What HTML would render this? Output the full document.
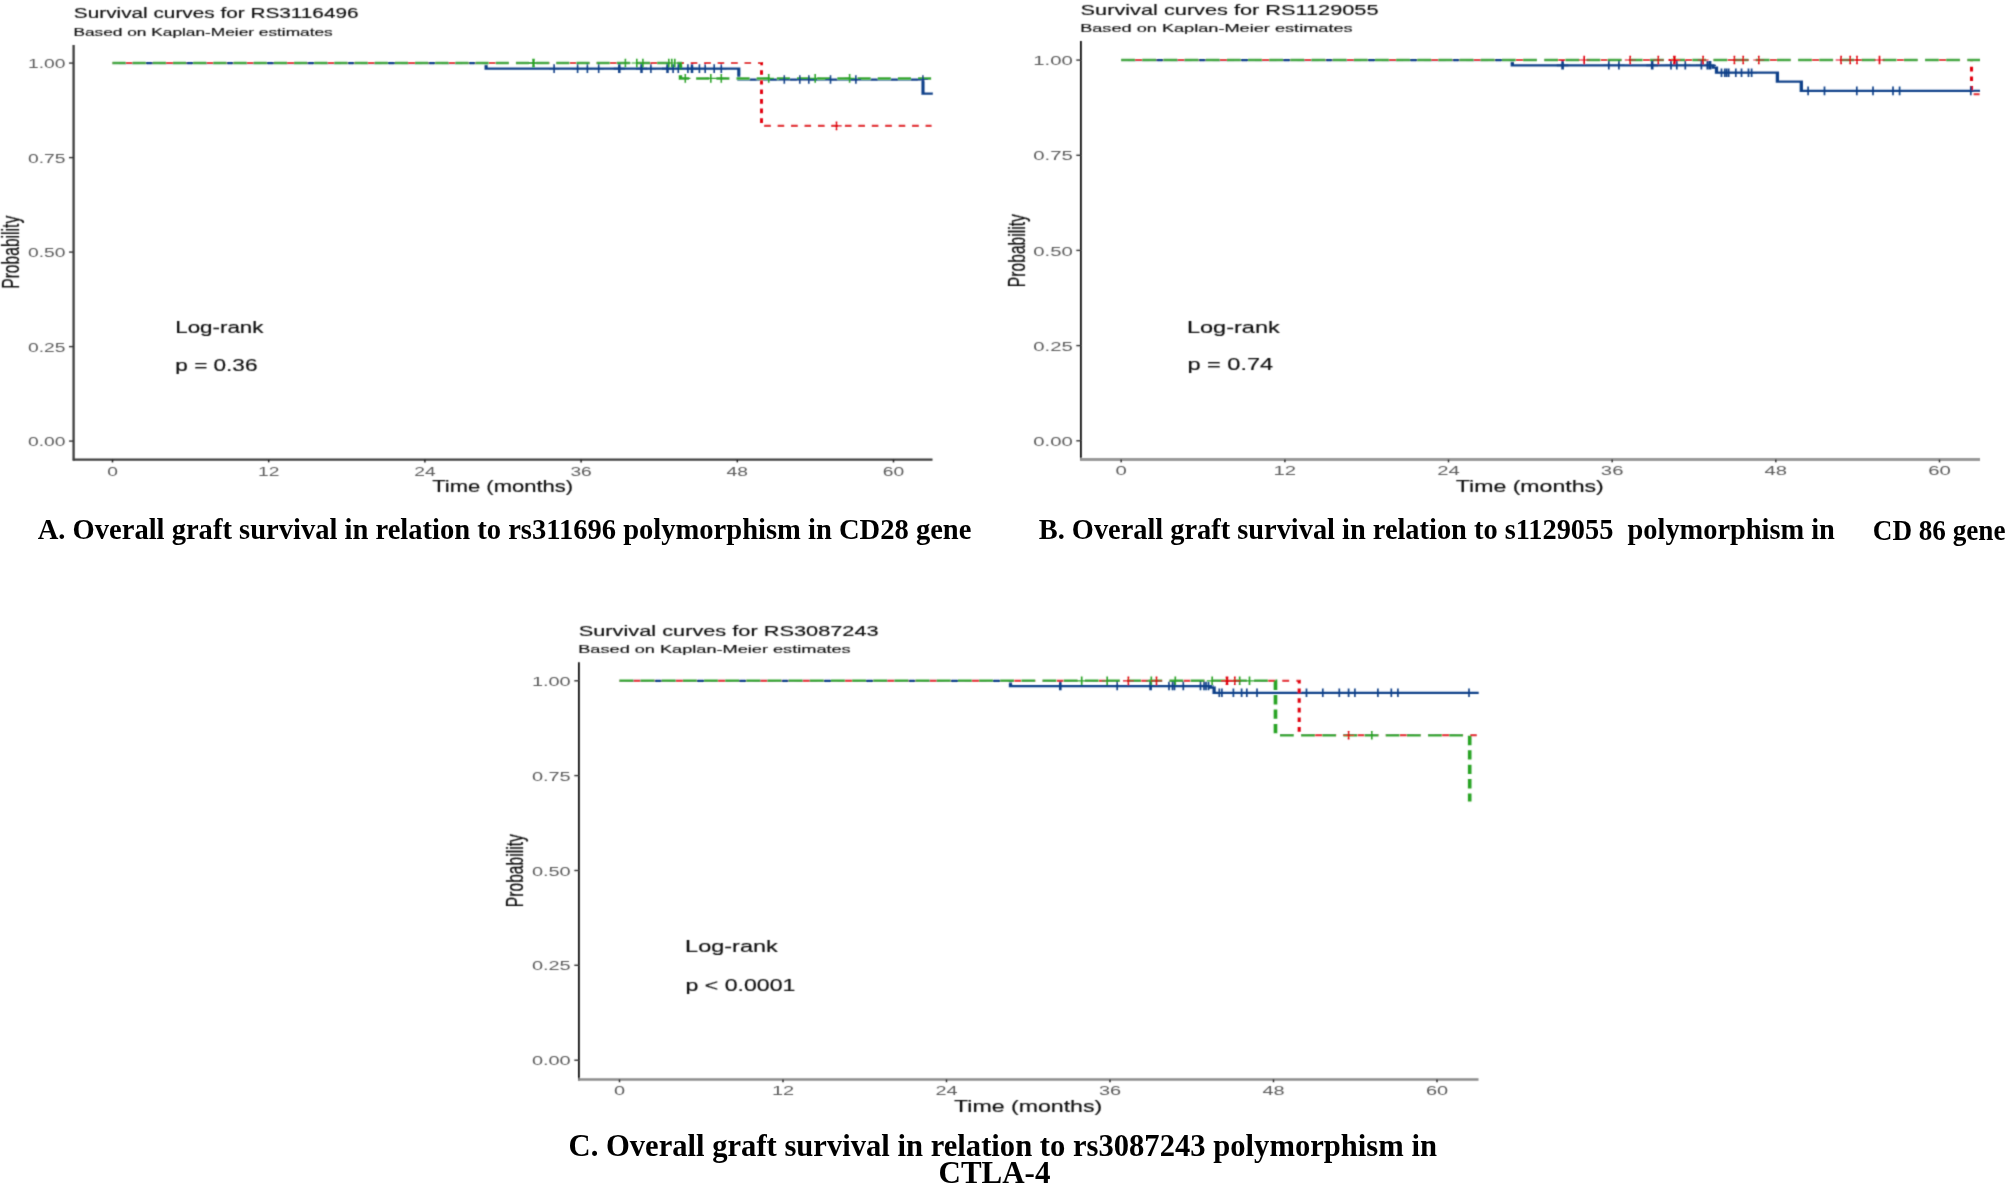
<!DOCTYPE html>
<html><head><meta charset="utf-8"><title>Graft survival curves</title>
<style>html,body{margin:0;padding:0;background:#fff}svg{display:block}.s{font-family:"Liberation Sans",sans-serif;stroke-width:.15px}.b{font-family:"Liberation Serif",serif;font-weight:bold;white-space:pre}</style></head><body>
<svg width="2007" height="1185" viewBox="0 0 2007 1185">
<defs><filter id="bl" x="-2%" y="-2%" width="104%" height="104%"><feConvolveMatrix order="3" kernelMatrix="1 4 1 4 16 4 1 4 1" divisor="36" edgeMode="none" preserveAlpha="false"/></filter></defs>
<rect width="2007" height="1185" fill="#fff"/>
<g id="plots" filter="url(#bl)">
<text class="s" xml:space="preserve" transform="translate(73.87,18.00) scale(1.4325,1)" font-size="14.5" fill="#111" stroke="#111" stroke-width="0.02">Survival curves for RS3116496</text>
<text class="s" xml:space="preserve" transform="translate(73.42,35.70) scale(1.4789,1)" font-size="11.7" fill="#111" stroke="#111" stroke-width="0.02">Based on Kaplan-Meier estimates</text>
<text class="s" xml:space="preserve" transform="translate(1080.62,14.70) scale(1.4988,1)" font-size="14.5" fill="#111" stroke="#111" stroke-width="0.02">Survival curves for RS1129055</text>
<text class="s" xml:space="preserve" transform="translate(1080.15,32.40) scale(1.5541,1)" font-size="11.7" fill="#111" stroke="#111" stroke-width="0.02">Based on Kaplan-Meier estimates</text>
<text class="s" xml:space="preserve" transform="translate(578.72,635.60) scale(1.5018,1)" font-size="14.5" fill="#111" stroke="#111" stroke-width="0.02">Survival curves for RS3087243</text>
<text class="s" xml:space="preserve" transform="translate(578.25,653.40) scale(1.5536,1)" font-size="11.7" fill="#111" stroke="#111" stroke-width="0.02">Based on Kaplan-Meier estimates</text>
<text class="s" xml:space="preserve" transform="translate(175.21,332.90) scale(1.4338,1)" font-size="15.6" fill="#111" stroke="#111" stroke-width="0.04">Log-rank</text>
<text class="s" xml:space="preserve" transform="translate(175.35,371.20) scale(1.4465,1)" font-size="15.6" fill="#111" stroke="#111" stroke-width="0.04">p = 0.36</text>
<text class="s" xml:space="preserve" transform="translate(1186.92,332.70) scale(1.5083,1)" font-size="15.6" fill="#111" stroke="#111" stroke-width="0.04">Log-rank</text>
<text class="s" xml:space="preserve" transform="translate(1187.39,369.80) scale(1.5107,1)" font-size="15.6" fill="#111" stroke="#111" stroke-width="0.04">p = 0.74</text>
<text class="s" xml:space="preserve" transform="translate(685.12,952.00) scale(1.5050,1)" font-size="15.6" fill="#111" stroke="#111" stroke-width="0.04">Log-rank</text>
<text class="s" xml:space="preserve" transform="translate(685.61,990.70) scale(1.4797,1)" font-size="15.6" fill="#111" stroke="#111" stroke-width="0.04">p &lt; 0.0001</text>
<text class="s" xml:space="preserve" transform="translate(432.26,492.00) scale(1.3908,1)" font-size="15.8" fill="#111" stroke="#111" stroke-width="0.1">Time (months)</text>
<text class="s" xml:space="preserve" transform="translate(1455.84,492.10) scale(1.4618,1)" font-size="15.8" fill="#111" stroke="#111" stroke-width="0.1">Time (months)</text>
<text class="s" xml:space="preserve" transform="translate(954.04,1112.10) scale(1.4647,1)" font-size="15.8" fill="#111" stroke="#111" stroke-width="0.1">Time (months)</text>
<line x1="73.6" y1="45" x2="73.6" y2="460.6" stroke="#3c3c3c" stroke-width="2.3"/>
<line x1="72.8" y1="459.6" x2="932.5" y2="459.6" stroke="#3c3c3c" stroke-width="2.3"/>
<line x1="69.0" y1="63.1" x2="73.6" y2="63.1" stroke="#333" stroke-width="1.4"/>
<text class="s" text-anchor="end" transform="translate(65.39,68.20) scale(1.4051,1)" font-size="13.7" fill="#5c5c5c">1.00</text>
<line x1="69.0" y1="157.6" x2="73.6" y2="157.6" stroke="#333" stroke-width="1.4"/>
<text class="s" text-anchor="end" transform="translate(65.39,162.70) scale(1.4051,1)" font-size="13.7" fill="#5c5c5c">0.75</text>
<line x1="69.0" y1="252.1" x2="73.6" y2="252.1" stroke="#333" stroke-width="1.4"/>
<text class="s" text-anchor="end" transform="translate(65.39,257.20) scale(1.4051,1)" font-size="13.7" fill="#5c5c5c">0.50</text>
<line x1="69.0" y1="346.6" x2="73.6" y2="346.6" stroke="#333" stroke-width="1.4"/>
<text class="s" text-anchor="end" transform="translate(65.39,351.70) scale(1.4051,1)" font-size="13.7" fill="#5c5c5c">0.25</text>
<line x1="69.0" y1="441.1" x2="73.6" y2="441.1" stroke="#333" stroke-width="1.4"/>
<text class="s" text-anchor="end" transform="translate(65.39,446.20) scale(1.4051,1)" font-size="13.7" fill="#5c5c5c">0.00</text>
<line x1="112.5" y1="459.6" x2="112.5" y2="462.40000000000003" stroke="#222" stroke-width="1.5"/>
<text class="s" text-anchor="middle" transform="translate(112.50,475.50) scale(1.4051,1)" font-size="13.7" fill="#5c5c5c">0</text>
<line x1="268.7" y1="459.6" x2="268.7" y2="462.40000000000003" stroke="#222" stroke-width="1.5"/>
<text class="s" text-anchor="middle" transform="translate(268.70,475.50) scale(1.4051,1)" font-size="13.7" fill="#5c5c5c">12</text>
<line x1="424.9" y1="459.6" x2="424.9" y2="462.40000000000003" stroke="#222" stroke-width="1.5"/>
<text class="s" text-anchor="middle" transform="translate(424.90,475.50) scale(1.4051,1)" font-size="13.7" fill="#5c5c5c">24</text>
<line x1="581.1" y1="459.6" x2="581.1" y2="462.40000000000003" stroke="#222" stroke-width="1.5"/>
<text class="s" text-anchor="middle" transform="translate(581.10,475.50) scale(1.4051,1)" font-size="13.7" fill="#5c5c5c">36</text>
<line x1="737.3" y1="459.6" x2="737.3" y2="462.40000000000003" stroke="#222" stroke-width="1.5"/>
<text class="s" text-anchor="middle" transform="translate(737.30,475.50) scale(1.4051,1)" font-size="13.7" fill="#5c5c5c">48</text>
<line x1="893.5" y1="459.6" x2="893.5" y2="462.40000000000003" stroke="#222" stroke-width="1.5"/>
<text class="s" text-anchor="middle" transform="translate(893.50,475.50) scale(1.4051,1)" font-size="13.7" fill="#5c5c5c">60</text>
<text class="s" text-anchor="middle" transform="translate(18.90,252.30) rotate(-90) scale(1.0030,1.4864)" font-size="15.6" fill="#111" stroke="#111">Probability</text>
<line x1="1080.9" y1="41" x2="1080.9" y2="460.5" stroke="#000" stroke-width="1.7"/>
<line x1="1080.1000000000001" y1="459.5" x2="1980" y2="459.5" stroke="#989898" stroke-width="2.8"/>
<line x1="1076.3000000000002" y1="60.1" x2="1080.9" y2="60.1" stroke="#333" stroke-width="1.4"/>
<text class="s" text-anchor="end" transform="translate(1072.74,65.20) scale(1.4832,1)" font-size="13.7" fill="#5c5c5c">1.00</text>
<line x1="1076.3000000000002" y1="155.3" x2="1080.9" y2="155.3" stroke="#333" stroke-width="1.4"/>
<text class="s" text-anchor="end" transform="translate(1072.74,160.37) scale(1.4832,1)" font-size="13.7" fill="#5c5c5c">0.75</text>
<line x1="1076.3000000000002" y1="250.4" x2="1080.9" y2="250.4" stroke="#333" stroke-width="1.4"/>
<text class="s" text-anchor="end" transform="translate(1072.74,255.54) scale(1.4832,1)" font-size="13.7" fill="#5c5c5c">0.50</text>
<line x1="1076.3000000000002" y1="345.6" x2="1080.9" y2="345.6" stroke="#333" stroke-width="1.4"/>
<text class="s" text-anchor="end" transform="translate(1072.74,350.71) scale(1.4832,1)" font-size="13.7" fill="#5c5c5c">0.25</text>
<line x1="1076.3000000000002" y1="440.8" x2="1080.9" y2="440.8" stroke="#333" stroke-width="1.4"/>
<text class="s" text-anchor="end" transform="translate(1072.74,445.88) scale(1.4832,1)" font-size="13.7" fill="#5c5c5c">0.00</text>
<line x1="1121.2" y1="459.5" x2="1121.2" y2="462.3" stroke="#222" stroke-width="1.5"/>
<text class="s" text-anchor="middle" transform="translate(1121.20,475.40) scale(1.4832,1)" font-size="13.7" fill="#5c5c5c">0</text>
<line x1="1284.9" y1="459.5" x2="1284.9" y2="462.3" stroke="#222" stroke-width="1.5"/>
<text class="s" text-anchor="middle" transform="translate(1284.85,475.40) scale(1.4832,1)" font-size="13.7" fill="#5c5c5c">12</text>
<line x1="1448.5" y1="459.5" x2="1448.5" y2="462.3" stroke="#222" stroke-width="1.5"/>
<text class="s" text-anchor="middle" transform="translate(1448.50,475.40) scale(1.4832,1)" font-size="13.7" fill="#5c5c5c">24</text>
<line x1="1612.2" y1="459.5" x2="1612.2" y2="462.3" stroke="#222" stroke-width="1.5"/>
<text class="s" text-anchor="middle" transform="translate(1612.15,475.40) scale(1.4832,1)" font-size="13.7" fill="#5c5c5c">36</text>
<line x1="1775.8" y1="459.5" x2="1775.8" y2="462.3" stroke="#222" stroke-width="1.5"/>
<text class="s" text-anchor="middle" transform="translate(1775.80,475.40) scale(1.4832,1)" font-size="13.7" fill="#5c5c5c">48</text>
<line x1="1939.5" y1="459.5" x2="1939.5" y2="462.3" stroke="#222" stroke-width="1.5"/>
<text class="s" text-anchor="middle" transform="translate(1939.45,475.40) scale(1.4832,1)" font-size="13.7" fill="#5c5c5c">60</text>
<text class="s" text-anchor="middle" transform="translate(1025.30,250.64) rotate(-90) scale(1.0030,1.5608)" font-size="15.6" fill="#111" stroke="#111">Probability</text>
<line x1="578.9" y1="662.3" x2="578.9" y2="1080.4" stroke="#000" stroke-width="1.7"/>
<line x1="578.1" y1="1079.4" x2="1478.5" y2="1079.4" stroke="#8c8c8c" stroke-width="2.5"/>
<line x1="574.3" y1="680.8" x2="578.9" y2="680.8" stroke="#333" stroke-width="1.4"/>
<text class="s" text-anchor="end" transform="translate(570.72,685.90) scale(1.4558,1)" font-size="13.7" fill="#5c5c5c">1.00</text>
<line x1="574.3" y1="775.6" x2="578.9" y2="775.6" stroke="#333" stroke-width="1.4"/>
<text class="s" text-anchor="end" transform="translate(570.72,780.75) scale(1.4558,1)" font-size="13.7" fill="#5c5c5c">0.75</text>
<line x1="574.3" y1="870.5" x2="578.9" y2="870.5" stroke="#333" stroke-width="1.4"/>
<text class="s" text-anchor="end" transform="translate(570.72,875.60) scale(1.4558,1)" font-size="13.7" fill="#5c5c5c">0.50</text>
<line x1="574.3" y1="965.3" x2="578.9" y2="965.3" stroke="#333" stroke-width="1.4"/>
<text class="s" text-anchor="end" transform="translate(570.72,970.45) scale(1.4558,1)" font-size="13.7" fill="#5c5c5c">0.25</text>
<line x1="574.3" y1="1060.2" x2="578.9" y2="1060.2" stroke="#333" stroke-width="1.4"/>
<text class="s" text-anchor="end" transform="translate(570.72,1065.30) scale(1.4558,1)" font-size="13.7" fill="#5c5c5c">0.00</text>
<line x1="619.5" y1="1079.4" x2="619.5" y2="1082.2" stroke="#222" stroke-width="1.5"/>
<text class="s" text-anchor="middle" transform="translate(619.50,1095.30) scale(1.4558,1)" font-size="13.7" fill="#5c5c5c">0</text>
<line x1="783.0" y1="1079.4" x2="783.0" y2="1082.2" stroke="#222" stroke-width="1.5"/>
<text class="s" text-anchor="middle" transform="translate(783.00,1095.30) scale(1.4558,1)" font-size="13.7" fill="#5c5c5c">12</text>
<line x1="946.5" y1="1079.4" x2="946.5" y2="1082.2" stroke="#222" stroke-width="1.5"/>
<text class="s" text-anchor="middle" transform="translate(946.50,1095.30) scale(1.4558,1)" font-size="13.7" fill="#5c5c5c">24</text>
<line x1="1110.0" y1="1079.4" x2="1110.0" y2="1082.2" stroke="#222" stroke-width="1.5"/>
<text class="s" text-anchor="middle" transform="translate(1110.00,1095.30) scale(1.4558,1)" font-size="13.7" fill="#5c5c5c">36</text>
<line x1="1273.5" y1="1079.4" x2="1273.5" y2="1082.2" stroke="#222" stroke-width="1.5"/>
<text class="s" text-anchor="middle" transform="translate(1273.50,1095.30) scale(1.4558,1)" font-size="13.7" fill="#5c5c5c">48</text>
<line x1="1437.0" y1="1079.4" x2="1437.0" y2="1082.2" stroke="#222" stroke-width="1.5"/>
<text class="s" text-anchor="middle" transform="translate(1437.00,1095.30) scale(1.4558,1)" font-size="13.7" fill="#5c5c5c">60</text>
<text class="s" text-anchor="middle" transform="translate(523.00,870.70) rotate(-90) scale(1.0030,1.5608)" font-size="15.6" fill="#111" stroke="#111">Probability</text>
<g transform="scale(1.398,1)" fill="none" stroke-linejoin="miter" stroke-linecap="butt">
<path d="M80.47,63.00H347.71V68.60H528.47V79.50H660.23V93.60H667.24" stroke="#0f4089" stroke-width="2.25"/>
<path d="M80.47,63.00H544.71" stroke="#fff" stroke-width="3.1" stroke-dasharray="4.65 4.97" stroke-dashoffset="0.00"/>
<path d="M544.71,125.90H666.31" stroke="#fff" stroke-width="3.1" stroke-dasharray="4.65 4.97" stroke-dashoffset="527.13"/>
<path d="M80.47,63.00H544.71V125.90H666.31" stroke="#e2000f" stroke-width="2.1" stroke-dasharray="4.65 4.97"/>
<path d="M80.47,63.00H486.77" stroke="#fff" stroke-width="3.5" stroke-dasharray="9.35 5.08" stroke-dashoffset="0.00"/>
<path d="M486.77,78.40H666.31" stroke="#fff" stroke-width="3.5" stroke-dasharray="9.35 5.08" stroke-dashoffset="421.69"/>
<path d="M80.47,63.00H486.77V78.40H666.31" stroke="#2aa427" stroke-width="2.5" stroke-dasharray="9.35 5.08"/>
<path d="M396.35,64.30V72.90M392.65,68.60H400.05M413.16,64.30V72.90M409.46,68.60H416.86M420.17,64.30V72.90M416.47,68.60H423.87M428.25,64.30V72.90M424.55,68.60H431.95M465.59,64.30V72.90M461.89,68.60H469.29M481.47,64.30V72.90M477.77,68.60H485.17M485.19,64.30V72.90M481.49,68.60H488.89M492.06,64.30V72.90M488.36,68.60H495.76M500.29,64.30V72.90M496.59,68.60H503.99M504.43,64.30V72.90M500.73,68.60H508.13M510.87,64.30V72.90M507.17,68.60H514.57M515.95,64.30V72.90M512.25,68.60H519.65" stroke="#0f4089" stroke-width="1.15" fill="none"/>
<path d="M442.99,64.30V72.90M438.99,68.60H446.99M458.87,64.30V72.90M454.87,68.60H462.87M477.47,64.30V72.90M473.47,68.60H481.47M494.99,64.30V72.90M490.99,68.60H498.99" stroke="#0f4089" stroke-width="1.8" fill="none"/>
<path d="M561.02,75.20V83.80M557.32,79.50H564.72M572.10,75.20V83.80M568.40,79.50H575.80M578.54,75.20V83.80M574.84,79.50H582.24M594.06,75.20V83.80M590.36,79.50H597.76M612.23,75.20V83.80M608.53,79.50H615.93M660.16,75.20V83.80M656.46,79.50H663.86" stroke="#0f4089" stroke-width="1.15" fill="none"/>
<path d="M447.35,58.70V67.30M443.65,63.00H451.05M455.51,58.70V67.30M451.81,63.00H459.21M459.87,58.70V67.30M456.17,63.00H463.57M478.40,58.70V67.30M474.70,63.00H482.10M480.54,58.70V67.30M476.84,63.00H484.24M482.69,58.70V67.30M478.99,63.00H486.39" stroke="#2aa427" stroke-width="1.15" fill="none"/>
<path d="M381.62,58.70V67.30M377.62,63.00H385.62" stroke="#2aa427" stroke-width="1.8" fill="none"/>
<path d="M490.20,74.10V82.70M486.50,78.40H493.90M508.44,74.10V82.70M504.74,78.40H512.14M515.95,74.10V82.70M512.25,78.40H519.65M549.86,74.10V82.70M546.16,78.40H553.56M583.12,74.10V82.70M579.42,78.40H586.82M607.73,74.10V82.70M604.03,78.40H611.43" stroke="#2aa427" stroke-width="1.15" fill="none"/>
<path d="M598.35,121.60V130.20M594.65,125.90H602.05" stroke="#e2000f" stroke-width="1.15" fill="none"/>
</g>
<g transform="scale(1.466,1)" fill="none" stroke-linejoin="miter" stroke-linecap="butt">
<path d="M764.80,60.00H1031.58V65.30H1168.49V67.50H1170.87V72.70H1212.41V81.50H1228.72V90.90H1350.61" stroke="#0f4089" stroke-width="2.25"/>
<path d="M764.80,60.00H1344.82" stroke="#fff" stroke-width="3.1" stroke-dasharray="4.65 4.97" stroke-dashoffset="0.00"/>
<path d="M1344.82,94.20H1350.27" stroke="#fff" stroke-width="3.1" stroke-dasharray="4.65 4.97" stroke-dashoffset="614.21"/>
<path d="M764.80,60.00H1344.82V94.20H1350.27" stroke="#e2000f" stroke-width="2.1" stroke-dasharray="4.65 4.97"/>
<path d="M764.80,60.00H1350.61" stroke="#fff" stroke-width="3.5" stroke-dasharray="9.35 5.08" stroke-dashoffset="0.00"/>
<path d="M764.80,60.00H1350.61" stroke="#2aa427" stroke-width="2.5" stroke-dasharray="9.35 5.08"/>
<path d="M1097.41,61.00V69.60M1093.71,65.30H1101.11M1104.30,61.00V69.60M1100.60,65.30H1108.00M1139.84,61.00V69.60M1136.14,65.30H1143.54M1143.79,61.00V69.60M1140.09,65.30H1147.49M1149.59,61.00V69.60M1145.89,65.30H1153.29M1160.57,61.00V69.60M1156.87,65.30H1164.27M1164.60,61.00V69.60M1160.90,65.30H1168.30M1165.89,61.00V69.60M1162.19,65.30H1169.59M1166.78,61.00V69.60M1163.08,65.30H1170.48" stroke="#0f4089" stroke-width="1.15" fill="none"/>
<path d="M1065.89,61.00V69.60M1061.89,65.30H1069.89M1127.01,61.00V69.60M1123.01,65.30H1131.01" stroke="#0f4089" stroke-width="1.8" fill="none"/>
<path d="M1174.28,68.40V77.00M1170.58,72.70H1177.98M1176.53,68.40V77.00M1172.83,72.70H1180.23M1177.83,68.40V77.00M1174.13,72.70H1181.53M1179.20,68.40V77.00M1175.50,72.70H1182.90M1184.04,68.40V77.00M1180.34,72.70H1187.74M1187.93,68.40V77.00M1184.23,72.70H1191.63M1192.70,68.40V77.00M1189.00,72.70H1196.40M1194.82,68.40V77.00M1191.12,72.70H1198.52" stroke="#0f4089" stroke-width="1.15" fill="none"/>
<path d="M1233.36,86.60V95.20M1229.66,90.90H1237.06M1244.54,86.60V95.20M1240.84,90.90H1248.24M1266.58,86.60V95.20M1262.88,90.90H1270.28M1277.63,86.60V95.20M1273.93,90.90H1281.33M1291.27,86.60V95.20M1287.57,90.90H1294.97M1295.77,86.60V95.20M1292.07,90.90H1299.47M1344.34,86.60V95.20M1340.64,90.90H1348.04" stroke="#0f4089" stroke-width="1.15" fill="none"/>
<path d="M1080.63,55.70V64.30M1076.93,60.00H1084.33M1112.01,55.70V64.30M1108.31,60.00H1115.71M1131.17,55.70V64.30M1127.47,60.00H1134.87M1161.73,55.70V64.30M1158.03,60.00H1165.43M1183.08,55.70V64.30M1179.38,60.00H1186.78M1189.09,55.70V64.30M1185.39,60.00H1192.79M1199.73,55.70V64.30M1196.03,60.00H1203.43M1255.87,55.70V64.30M1252.17,60.00H1259.57M1262.07,55.70V64.30M1258.37,60.00H1265.77M1266.71,55.70V64.30M1263.01,60.00H1270.41M1282.06,55.70V64.30M1278.36,60.00H1285.76" stroke="#e2000f" stroke-width="1.15" fill="none"/>
<path d="M1142.16,55.70V64.30M1138.16,60.00H1146.16" stroke="#e2000f" stroke-width="1.8" fill="none"/>
</g>
<g transform="scale(1.466,1)" fill="none" stroke-linejoin="miter" stroke-linecap="butt">
<path d="M422.58,680.80H689.29V686.00H825.51V687.50H828.17V692.80H1008.66" stroke="#0f4089" stroke-width="2.25"/>
<path d="M422.58,680.80H886.22" stroke="#fff" stroke-width="3.1" stroke-dasharray="4.65 4.97" stroke-dashoffset="0.00"/>
<path d="M886.22,735.30H1007.30" stroke="#fff" stroke-width="3.1" stroke-dasharray="4.65 4.97" stroke-dashoffset="518.14"/>
<path d="M422.58,680.80H886.22V735.30H1007.30" stroke="#e2000f" stroke-width="2.1" stroke-dasharray="4.65 4.97"/>
<path d="M422.58,680.80H870.05" stroke="#fff" stroke-width="3.5" stroke-dasharray="9.35 5.08" stroke-dashoffset="0.00"/>
<path d="M870.05,735.30H1002.52" stroke="#fff" stroke-width="3.5" stroke-dasharray="9.35 5.08" stroke-dashoffset="501.98"/>
<path d="M422.58,680.80H870.05V735.30H1002.52V801.60" stroke="#2aa427" stroke-width="2.5" stroke-dasharray="9.35 5.08"/>
<path d="M762.07,681.70V690.30M758.37,686.00H765.77M797.41,681.70V690.30M793.71,686.00H801.11M799.80,681.70V690.30M796.10,686.00H803.50M801.16,681.70V690.30M797.46,686.00H804.86M807.16,681.70V690.30M803.46,686.00H810.86M818.89,681.70V690.30M815.19,686.00H822.59M821.28,681.70V690.30M817.58,686.00H824.98M822.65,681.70V690.30M818.95,686.00H826.35M824.35,681.70V690.30M820.65,686.00H828.05" stroke="#0f4089" stroke-width="1.15" fill="none"/>
<path d="M723.26,681.70V690.30M719.26,686.00H727.26M784.86,681.70V690.30M780.86,686.00H788.86" stroke="#0f4089" stroke-width="1.8" fill="none"/>
<path d="M831.72,688.50V697.10M828.02,692.80H835.42M833.49,688.50V697.10M829.79,692.80H837.19M841.34,688.50V697.10M837.64,692.80H845.04M846.93,688.50V697.10M843.23,692.80H850.63M850.48,688.50V697.10M846.78,692.80H854.18M857.44,688.50V697.10M853.74,692.80H861.14M891.20,688.50V697.10M887.50,692.80H894.90M902.32,688.50V697.10M898.62,692.80H906.02M913.57,688.50V697.10M909.87,692.80H917.27M919.92,688.50V697.10M916.22,692.80H923.62M924.22,688.50V697.10M920.52,692.80H927.92M939.90,688.50V697.10M936.20,692.80H943.60M949.05,688.50V697.10M945.35,692.80H952.75M953.55,688.50V697.10M949.85,692.80H957.25M1002.05,688.50V697.10M998.35,692.80H1005.75" stroke="#0f4089" stroke-width="1.15" fill="none"/>
<path d="M737.86,676.50V685.10M734.16,680.80H741.56M755.25,676.50V685.10M751.55,680.80H758.95M785.33,676.50V685.10M781.63,680.80H789.03M801.71,676.50V685.10M798.01,680.80H805.41M826.88,676.50V685.10M823.18,680.80H830.58M845.63,676.50V685.10M841.93,680.80H849.33M852.32,676.50V685.10M848.62,680.80H856.02" stroke="#2aa427" stroke-width="1.15" fill="none"/>
<path d="M935.74,731.00V739.60M932.04,735.30H939.44" stroke="#2aa427" stroke-width="1.15" fill="none"/>
<path d="M769.71,676.50V685.10M766.01,680.80H773.41M788.88,676.50V685.10M785.18,680.80H792.58M842.29,676.50V685.10M838.59,680.80H845.99" stroke="#e2000f" stroke-width="1.15" fill="none"/>
<path d="M836.97,676.50V685.10M832.97,680.80H840.97" stroke="#e2000f" stroke-width="1.8" fill="none"/>
<path d="M919.92,731.00V739.60M916.22,735.30H923.62" stroke="#e2000f" stroke-width="1.15" fill="none"/>
</g>
</g>
<text class="b" xml:space="preserve" transform="translate(37.66,538.80) scale(0.9885,1)" font-size="28.9" fill="#000">A. Overall graft survival in relation to rs311696 polymorphism in CD28 gene</text>
<text class="b" xml:space="preserve" transform="translate(1038.77,539.10) scale(0.9821,1)" font-size="28.9" fill="#000">B. Overall graft survival in relation to s1129055  polymorphism in</text>
<text class="b" xml:space="preserve" transform="translate(1872.78,540.10) scale(0.9504,1)" font-size="28.6" fill="#000">CD 86 gene</text>
<text class="b" xml:space="preserve" transform="translate(568.52,1155.90) scale(0.9753,1)" font-size="31.4" fill="#000">C. Overall graft survival in relation to rs3087243 polymorphism in</text>
<text class="b" xml:space="preserve" transform="translate(938.50,1182.80) scale(0.9873,1)" font-size="31.4" fill="#000">CTLA-4</text>
</svg></body></html>
